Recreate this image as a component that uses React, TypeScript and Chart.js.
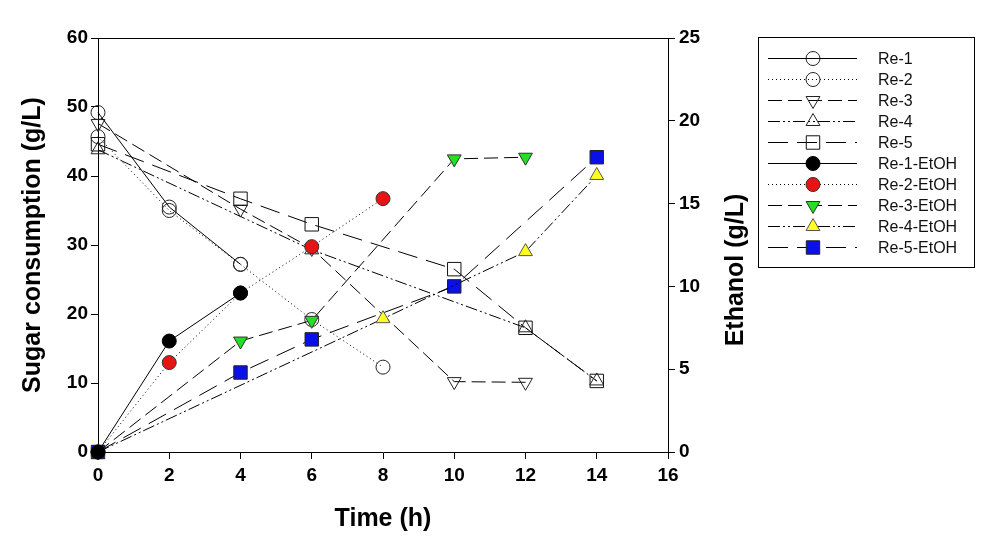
import React, { useEffect, useRef } from 'react';
import { Chart, registerables } from 'chart.js';

Chart.register(...registerables);

// ---- data ----
const hours = [0, 2, 4, 6, 8, 10, 12, 14];
const seriesNames = ['Re-1', 'Re-2', 'Re-3', 'Re-4', 'Re-5', 'Re-1-EtOH', 'Re-2-EtOH', 'Re-3-EtOH', 'Re-4-EtOH', 'Re-5-EtOH'];
const re1Sugar = [49.2, 35.5, 27.2, null, null, null, null, null];
const re2Sugar = [45.7, 35.0, 27.2, 19.2, 12.3, null, null, null];
const re3Sugar = [47.6, null, 35.2, 29.5, null, 10.2, 10.1, null];
const re4Sugar = [43.8, null, null, 29.3, null, null, 18.0, 10.3];
const re5Sugar = [44.6, null, 36.7, 33.0, null, 26.5, 18.0, 10.3];
const re1Etoh = [0, 6.7, 9.6, null, null, null, null, null];
const re2Etoh = [0, 5.4, 9.6, 12.4, 15.3, null, null, null];
const re3Etoh = [0, null, 6.7, 7.95, null, 17.7, 17.8, null];
const re4Etoh = [0, null, null, null, 8.05, null, 12.1, 16.7];
const re5Etoh = [0, null, 4.8, 6.8, null, 10.0, null, 17.8];
const xTicks = { min: 0, max: 16, step: 2 };
const sugarTicks = { min: 0, max: 60, step: 10 };
const etohTicks = { min: 0, max: 25, step: 5 };

const allValues = [re1Sugar, re2Sugar, re3Sugar, re4Sugar, re5Sugar, re1Etoh, re2Etoh, re3Etoh, re4Etoh, re5Etoh];

// ---- styles ----
const DOT = [1, 3];
const DASH = [14, 6];
const DASHDOTDOT = [12, 3, 2, 3, 2, 3];
const LONGDASH = [20, 9];
const styles = [
  { dash: [], shape: 'circle', r: 7, rot: 0, fill: 'rgba(0,0,0,0)', stroke: '#222' },
  { dash: DOT, shape: 'circle', r: 7, rot: 0, fill: 'rgba(0,0,0,0)', stroke: '#222' },
  { dash: DASH, shape: 'triangle', r: 8, rot: 180, fill: 'rgba(0,0,0,0)', stroke: '#222' },
  { dash: DASHDOTDOT, shape: 'triangle', r: 8, rot: 0, fill: 'rgba(0,0,0,0)', stroke: '#222' },
  { dash: LONGDASH, shape: 'rect', r: 9.5, rot: 0, fill: 'rgba(0,0,0,0)', stroke: '#111' },
  { dash: [], shape: 'circle', r: 7, rot: 0, fill: '#000000', stroke: '#000' },
  { dash: DOT, shape: 'circle', r: 7, rot: 0, fill: '#e81414', stroke: '#333' },
  { dash: DASH, shape: 'triangle', r: 8, rot: 180, fill: '#22e022', stroke: '#333' },
  { dash: DASHDOTDOT, shape: 'triangle', r: 8, rot: 0, fill: '#ffff22', stroke: '#555' },
  { dash: LONGDASH, shape: 'rect', r: 9.5, rot: 0, fill: '#0a10e8', stroke: '#222' },
];

const FONT = '"Liberation Sans", Arial, sans-serif';

function drawMarker(ctx: CanvasRenderingContext2D, s: any, x: number, y: number) {
  ctx.save();
  ctx.setLineDash([]);
  ctx.lineWidth = 1;
  ctx.fillStyle = s.fill;
  ctx.strokeStyle = s.stroke;
  ctx.beginPath();
  if (s.shape === 'circle') {
    ctx.arc(x, y, s.r, 0, Math.PI * 2);
  } else if (s.shape === 'rect') {
    const h = Math.SQRT1_2 * s.r;
    ctx.rect(x - h, y - h, 2 * h, 2 * h);
  } else {
    let rad = (s.rot * Math.PI) / 180;
    for (let k = 0; k < 3; k++) {
      const px = x + Math.sin(rad) * s.r;
      const py = y - Math.cos(rad) * s.r;
      if (k === 0) ctx.moveTo(px, py); else ctx.lineTo(px, py);
      rad += (2 * Math.PI) / 3;
    }
    ctx.closePath();
  }
  ctx.fill();
  ctx.stroke();
  ctx.restore();
}

const decorPlugin = {
  id: 'decor',
  afterDraw(chart: any) {
    const ctx: CanvasRenderingContext2D = chart.ctx;
    const { left, right, top } = chart.chartArea;
    ctx.save();
    // top frame line
    ctx.strokeStyle = '#000';
    ctx.lineWidth = 1;
    ctx.beginPath();
    ctx.moveTo(left, Math.round(top) + 0.5);
    ctx.lineTo(right, Math.round(top) + 0.5);
    ctx.stroke();
    // right axis title (reads bottom to top)
    ctx.save();
    ctx.translate(736, 270);
    ctx.rotate(-Math.PI / 2);
    ctx.font = `bold 25px ${FONT}`;
    ctx.fillStyle = '#000';
    ctx.textAlign = 'center';
    ctx.textBaseline = 'middle';
    ctx.fillText('Ethanol (g/L)', 0, 0);
    ctx.restore();
    // legend box
    const bx = 758, by = 37, bw = 216, bh = 230;
    ctx.strokeStyle = '#000';
    ctx.strokeRect(bx + 0.5, by + 0.5, bw, bh);
    const rowY0 = 57.5, rowH = 21.1;
    chart.data.datasets.forEach((ds: any, i: number) => {
      const s = styles[i];
      const y = Math.round(rowY0 + i * rowH) + 0.5;
      ctx.save();
      ctx.strokeStyle = '#000';
      ctx.lineWidth = 1;
      ctx.setLineDash(s.dash);
      ctx.beginPath();
      ctx.moveTo(768, y);
      ctx.lineTo(857, y);
      ctx.stroke();
      ctx.restore();
      drawMarker(ctx, s, 813, y);
      ctx.font = `16px ${FONT}`;
      ctx.fillStyle = '#111';
      ctx.textAlign = 'left';
      ctx.textBaseline = 'middle';
      ctx.fillText(ds.label, 878, y + 1);
    });
    ctx.restore();
  },
};

export default function App() {
  const canvasRef = useRef<HTMLCanvasElement | null>(null);

  useEffect(() => {
    const canvas = canvasRef.current;
    if (!canvas) return;
    const datasets = allValues.map((vals, i) => {
      const s = styles[i];
      const isEtoh = i >= 5;
      return {
        label: seriesNames[i],
        data: hours
          .map((h, k) => ({ x: h, y: vals[k] }))
          .filter((p) => p.y !== null && p.y !== undefined),
        yAxisID: isEtoh ? 'yR' : 'y',
        borderColor: '#000',
        borderWidth: 1,
        borderDash: s.dash,
        pointStyle: s.shape,
        pointRadius: s.r,
        pointRotation: s.rot,
        pointBackgroundColor: s.fill,
        pointBorderColor: s.stroke,
        pointBorderWidth: 1,
        fill: false,
        tension: 0,
        spanGaps: true,
        clip: false,
        order: isEtoh ? 0 : 1,
      };
    });

    const tickFont = { family: FONT, size: 19, weight: 'bold' as const };
    const gridCfg = {
      display: true,
      drawOnChartArea: false,
      drawTicks: true,
      tickLength: 7,
      color: '#000',
      lineWidth: 1,
    };
    const borderCfg = { display: true, color: '#000', width: 1 };

    const chart = new Chart(canvas, {
      type: 'line',
      data: { datasets },
      options: {
        animation: false,
        responsive: false,
        maintainAspectRatio: false,
        layout: { padding: { top: 38, left: 0, right: 236, bottom: 0 } },
        plugins: { legend: { display: false }, tooltip: { enabled: false } },
        scales: {
          x: {
            type: 'linear',
            min: xTicks.min,
            max: xTicks.max,
            ticks: { stepSize: xTicks.step, font: tickFont, color: '#000', padding: 5 },
            grid: gridCfg,
            border: borderCfg,
            title: {
              display: true,
              text: 'Time (h)',
              font: { family: FONT, size: 25, weight: 'bold' },
              color: '#000',
              padding: { top: 0, bottom: 5 },
            },
            afterFit: (scale: any) => { scale.height = 87; },
          },
          y: {
            type: 'linear',
            position: 'left',
            min: sugarTicks.min,
            max: sugarTicks.max,
            ticks: { stepSize: sugarTicks.step, font: tickFont, color: '#000', padding: 3 },
            grid: gridCfg,
            border: borderCfg,
            title: {
              display: true,
              text: 'Sugar consumption (g/L)',
              font: { family: FONT, size: 25, weight: 'bold' },
              color: '#000',
              padding: { top: 18, bottom: 0 },
            },
            afterFit: (scale: any) => { scale.width = 98; },
          },
          yR: {
            type: 'linear',
            position: 'right',
            min: etohTicks.min,
            max: etohTicks.max,
            ticks: { stepSize: etohTicks.step, font: tickFont, color: '#000', padding: 4 },
            grid: gridCfg,
            border: borderCfg,
            afterFit: (scale: any) => { scale.width = 82; },
          },
        },
      },
      plugins: [decorPlugin],
    });
    return () => chart.destroy();
  }, []);

  return (
    <div style={{ position: 'fixed', left: 0, top: 0, width: 986, height: 539, background: '#fff' }}>
      <canvas ref={canvasRef} width={986} height={539} style={{ display: 'block' }} />
    </div>
  );
}
